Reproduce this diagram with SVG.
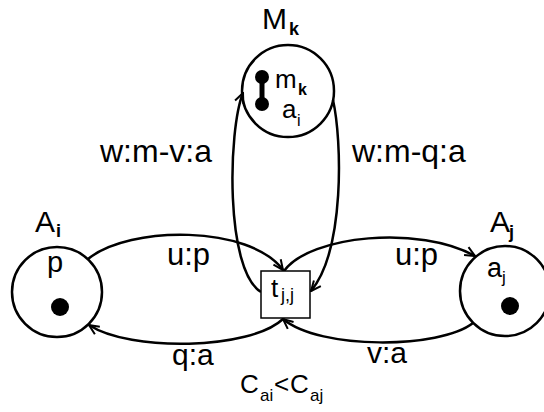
<svg xmlns="http://www.w3.org/2000/svg" width="544" height="412" viewBox="0 0 544 412">
<style>
  .n { fill: none; stroke: #000; stroke-width: 2.5; }
  .box { fill: #fff; stroke: #000; stroke-width: 1.5; }
  .e { fill: none; stroke: #000; stroke-width: 2.5; }
  .t { font-family: "Liberation Sans", Arial, sans-serif; fill: #000; }
  .dot { fill: #000; }
</style>
<defs>
  <marker id="ah" viewBox="0 0 12 12" refX="11" refY="6" markerWidth="12" markerHeight="12" markerUnits="userSpaceOnUse" orient="auto">
    <path d="M1,1.5 L11,6 L1,10.5" fill="none" stroke="#000" stroke-width="2"/>
  </marker>
</defs>
<rect x="0" y="0" width="544" height="412" fill="#fff"/>

<g id="connectors">
  <path class="e" d="M88 259 C130 225, 250 225, 283 270" marker-end="url(#ah)"/>
  <path class="e" d="M284 271 C310 235, 420 225, 475 256" marker-end="url(#ah)"/>
  <path class="e" d="M283 319 C250 350, 130 352, 89 325" marker-end="url(#ah)"/>
  <path class="e" d="M473 323 C440 349, 320 350, 283 319" marker-end="url(#ah)"/>
  <path class="e" d="M261 292 C225 270, 228 130, 243 93" marker-end="url(#ah)"/>
  <path class="e" d="M333 100 C342 140, 345 250, 311 291" marker-end="url(#ah)"/>
  <text class="t" x="100" y="162" font-size="32">w:m-v:a</text>
  <text class="t" x="352" y="162" font-size="32">w:m-q:a</text>
  <text class="t" x="167" y="265" font-size="31">u:p</text>
  <text class="t" x="395" y="265" font-size="31">u:p</text>
  <text class="t" x="172" y="365" font-size="30">q:a</text>
  <text class="t" x="367" y="363" font-size="30">v:a</text>
</g>

<g id="Mk">
  <circle class="n" cx="288" cy="91" r="46"/>
  <text class="t" x="262" y="29" font-size="30">M</text>
  <text class="t" x="289" y="35" font-size="18" font-weight="bold">k</text>
  <line x1="262" y1="77" x2="262" y2="104" stroke="#000" stroke-width="5"/>
  <circle class="dot" cx="262" cy="77" r="7"/>
  <circle class="dot" cx="262" cy="104" r="7"/>
  <text class="t" x="275" y="88" font-size="26">m</text>
  <text class="t" x="298" y="95" font-size="16" font-weight="bold">k</text>
  <text class="t" x="282" y="118" font-size="26">a</text>
  <text class="t" x="297" y="126" font-size="16">i</text>
</g>

<g id="Ai">
  <circle class="n" cx="57" cy="292" r="45"/>
  <text class="t" x="35" y="232" font-size="30">A</text>
  <text class="t" x="56" y="237" font-size="18" font-weight="bold">i</text>
  <text class="t" x="47" y="272" font-size="29">p</text>
  <circle class="dot" cx="60" cy="307" r="9"/>
</g>

<g id="Aj">
  <circle class="n" cx="505" cy="291" r="45"/>
  <text class="t" x="490" y="232" font-size="30">A</text>
  <text class="t" x="509" y="238" font-size="18" font-weight="bold">j</text>
  <text class="t" x="487" y="277" font-size="27">a</text>
  <text class="t" x="502" y="283" font-size="17">j</text>
  <circle class="dot" cx="510" cy="306" r="9"/>
</g>

<g id="tjj">
  <rect class="box" x="261" y="271" width="49" height="47"/>
  <text class="t" x="271" y="297" font-size="26">t</text>
  <text class="t" x="281" y="301" font-size="18">j,j</text>
</g>

<g id="condition">
  <text class="t" x="240" y="393" font-size="26">C</text>
  <text class="t" x="260" y="401" font-size="17">ai</text>
  <text class="t" x="274" y="393" font-size="26">&lt;</text>
  <text class="t" x="290" y="393" font-size="26">C</text>
  <text class="t" x="310" y="401" font-size="17">aj</text>
</g>
</svg>
